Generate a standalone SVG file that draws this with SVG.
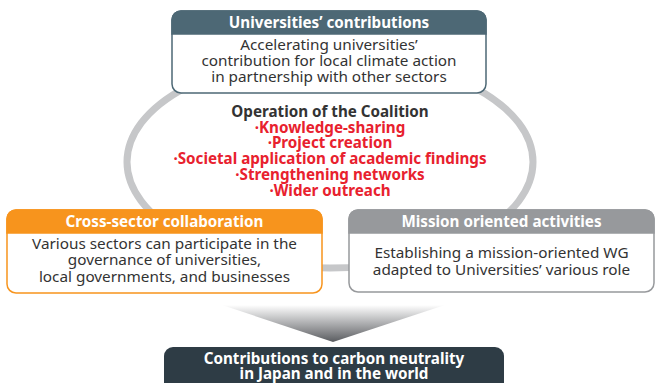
<svg xmlns="http://www.w3.org/2000/svg" width="656" height="383" viewBox="0 0 656 383">
<defs>
<linearGradient id="arrowGrad" x1="0" y1="0" x2="0" y2="1">
<stop offset="0" stop-color="#ffffff"/>
<stop offset="1" stop-color="#5a5c60"/>
</linearGradient>
</defs>
<style>
text{font-family:"Noto Sans","Liberation Sans",sans-serif;text-anchor:middle}
.hd{font-size:15.2px;font-weight:bold;fill:#ffffff}
.bd{font-size:15.3px;fill:#333333}
.op{font-size:15.2px;font-weight:bold;fill:#333333}
.rd{font-size:15.2px;font-weight:bold;fill:#e8212e}
</style>
<rect width="656" height="383" fill="#ffffff"/>
<g id="connectors">
<ellipse cx="330" cy="162" rx="203" ry="106" fill="none" stroke="#c6c7c9" stroke-width="7"/>
<polygon points="222,305 445,305 333,342" fill="url(#arrowGrad)"/>
</g>
<g id="universities">
<rect x="172" y="11" width="314" height="82" rx="9" fill="#ffffff" stroke="#4d6875" stroke-width="1.5"/>
<path d="M172,34 V20 A9,9 0 0 1 181,11 H477 A9,9 0 0 1 486,20 V34 Z" fill="#4d6875" stroke="#4d6875" stroke-width="1.5"/>
<text class="hd" x="329" y="28">Universities’ contributions</text>
<text class="bd" x="329" y="50">Accelerating universities’</text>
<text class="bd" x="329" y="66">contribution for local climate action</text>
<text class="bd" x="329" y="82">in partnership with other sectors</text>
</g>
<g id="coalition">
<text class="op" x="330" y="117">Operation of the Coalition</text>
<text class="rd" x="330" y="133">·Knowledge-sharing</text>
<text class="rd" x="330" y="148">·Project creation</text>
<text class="rd" x="330" y="164">·Societal application of academic findings</text>
<text class="rd" x="330" y="180">·Strengthening networks</text>
<text class="rd" x="330" y="196">·Wider outreach</text>
</g>
<g id="crosssector">
<rect x="7" y="210" width="315" height="83" rx="9" fill="#ffffff" stroke="#f7941d" stroke-width="1.5"/>
<path d="M7,233 V219 A9,9 0 0 1 16,210 H313 A9,9 0 0 1 322,219 V233 Z" fill="#f7941d" stroke="#f7941d" stroke-width="1.5"/>
<text class="hd" x="164.5" y="227">Cross-sector collaboration</text>
<text class="bd" x="164.5" y="249">Various sectors can participate in the</text>
<text class="bd" x="164.5" y="265">governance of universities,</text>
<text class="bd" x="164.5" y="282">local governments, and businesses</text>
</g>
<g id="mission">
<rect x="349" y="210" width="305" height="82" rx="9" fill="#ffffff" stroke="#97999c" stroke-width="1.5"/>
<path d="M349,233 V219 A9,9 0 0 1 358,210 H645 A9,9 0 0 1 654,219 V233 Z" fill="#97999c" stroke="#97999c" stroke-width="1.5"/>
<text class="hd" x="501.5" y="227">Mission oriented activities</text>
<text class="bd" x="501.5" y="258">Establishing a mission-oriented WG</text>
<text class="bd" x="501.5" y="275">adapted to Universities’ various role</text>
</g>
<g id="outcome">
<path d="M164,390 V356 A9,9 0 0 1 173,347 H495 A9,9 0 0 1 504,356 V390 Z" fill="#2e3c45"/>
<text class="hd" x="334" y="364">Contributions to carbon neutrality</text>
<text class="hd" x="334" y="379">in Japan and in the world</text>
</g>
</svg>
